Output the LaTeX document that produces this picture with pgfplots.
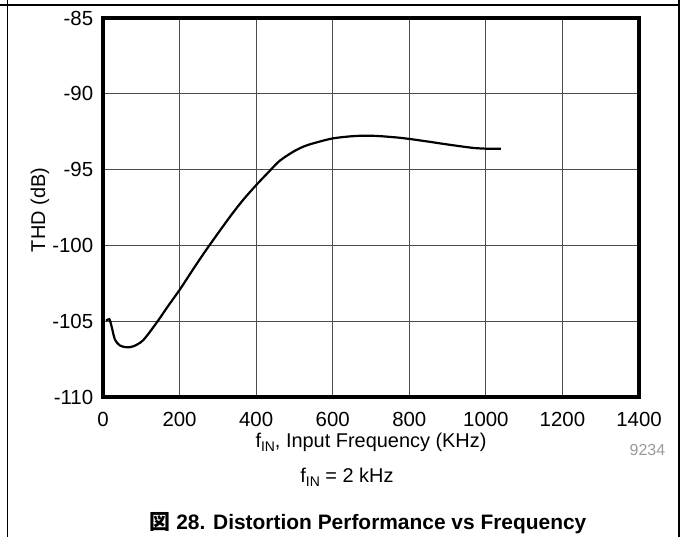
\documentclass[border=0pt]{standalone}
\usepackage{fontspec}
\setmainfont{Liberation Sans}
\newfontfamily\cjk{Noto Sans CJK JP}
\usepackage{pgfplots}
\pgfplotsset{compat=1.18}
\newcommand{\sub}[1]{\raisebox{-0.3ex}{\fontsize{14}{16}\selectfont #1}}
\begin{document}
\fontsize{20}{24}\selectfont
\begin{tikzpicture}[x=1bp,y=1bp]
\path[use as bounding box] (0,0) rectangle (687,537);
\draw[line width=1.3bp] (0,532) -- (679,532);
\draw[line width=1.3bp] (7.3,0) -- (7.3,537);
\draw[line width=1.3bp] (679,0) -- (679,537);
\begin{axis}[at={(103bp,140bp)}, anchor=south west, width=536bp, height=379bp, scale only axis,
  xmin=0,xmax=1400,ymin=-110,ymax=-85,
  xtick={0,200,...,1400}, ytick={-110,-105,...,-85},
  grid=major, major grid style={black!70,line width=0.9bp},
  axis line style={line width=3.2bp},
  major tick length=0pt,
  tick label style={font=\fontsize{20.5}{24}\selectfont},
  xticklabel style={yshift=-8bp}, yticklabel style={xshift=-3bp},
  scaled ticks=false,
  /pgf/number format/assume math mode=true,
  /pgf/number format/1000 sep={}]
\addplot[black, line width=2.2bp, smooth, tension=0.5] coordinates {
(8,-104.97) (16.5,-104.87) (22.6,-105.36) (31,-106.2) (44,-106.6) (62,-106.72) (80,-106.65)
(105,-106.25) (140,-105.1) (170,-104.0) (201,-102.9) (240,-101.4) (275,-100.1) (332,-98.1)
(366,-97.0) (401,-96.0) (436,-95.07) (462,-94.41) (497,-93.82) (523,-93.49) (549,-93.27) (601,-92.94)
(662,-92.78) (714,-92.78) (775,-92.9) (801,-92.98) (854,-93.17) (888,-93.3) (930,-93.45)
(967,-93.57) (1000,-93.62) (1039,-93.62)
};
\end{axis}
\node[anchor=base] at (371,89) {f\sub{IN}, Input Frequency (KHz)};
\node[rotate=90] at (40,327) {THD (dB)};
\node[anchor=base] at (347,54) {f\sub{IN} = 2 kHz};
\node[anchor=base, font=\fontsize{21}{24}\selectfont\bfseries] at (368,7) {{\cjk 図} 28. Distortion Performance vs Frequency};
\node[anchor=base east, text=black!40, font=\fontsize{16}{18}\selectfont] at (672,81) {9234};
\node[anchor=base east, text=black!40, font=\fontsize{16}{18}\selectfont] at (6,81) {4};
\end{tikzpicture}
\end{document}
